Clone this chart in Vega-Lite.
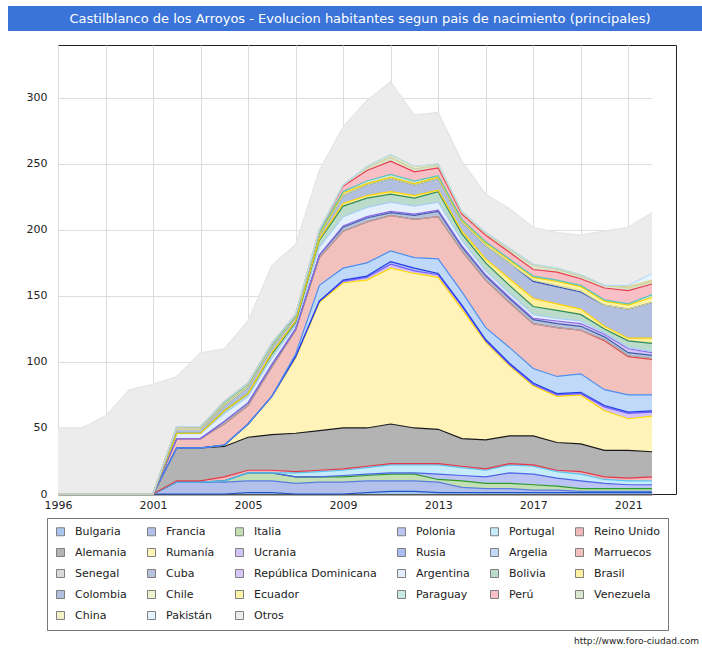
{
"$schema": "https://vega.github.io/schema/vega-lite/v6.json",
"padding": {"left": 8, "top": 6, "right": 0, "bottom": 0},
"spacing": 13,
"config": {"font": "DejaVu Sans", "view": {"stroke": "#222"}},
"vconcat": [
{
"width": 694, "height": 25,
"view": {"fill": "#3a74d8", "stroke": null},
"data": {"values": [{"t": "Castilblanco de los Arroyos - Evolucion habitantes segun pais de nacimiento (principales)"}]},
"mark": {"type": "text", "color": "white", "fontSize": 13, "dx": 5, "baseline": "middle"},
"encoding": {"text": {"field": "t"}}
},
{
"spacing": 0,
"hconcat": [
{
"width": 17, "height": 449,
"view": {"stroke": null},
"data": {"values": [{"t": ""}]},
"mark": {"type": "text"},
"encoding": {"text": {"field": "t"}}
},
{
"width": 618, "height": 449,
"title": {"text": "http://www.foro-ciudad.com", "orient": "bottom", "anchor": "end", "fontSize": 9, "fontWeight": "normal", "color": "#222", "dx": 23, "offset": 127},
"data": {"values": [
{"year":1996,"pais":"Otros","n":50},{"year":1998,"pais":"Otros","n":50},{"year":1999,"pais":"Otros","n":59},{"year":2000,"pais":"Otros","n":79},{"year":2001,"pais":"Otros","n":83},{"year":2002,"pais":"Otros","n":38},{"year":2003,"pais":"Otros","n":56},{"year":2004,"pais":"Otros","n":40},{"year":2005,"pais":"Otros","n":47},{"year":2006,"pais":"Otros","n":59},{"year":2007,"pais":"Otros","n":53},{"year":2008,"pais":"Otros","n":45},{"year":2009,"pais":"Otros","n":44},{"year":2010,"pais":"Otros","n":50},{"year":2011,"pais":"Otros","n":55},{"year":2012,"pais":"Otros","n":39},{"year":2013,"pais":"Otros","n":39},{"year":2014,"pais":"Otros","n":38},{"year":2015,"pais":"Otros","n":29},{"year":2016,"pais":"Otros","n":30},{"year":2017,"pais":"Otros","n":28},{"year":2018,"pais":"Otros","n":27},{"year":2019,"pais":"Otros","n":30},{"year":2020,"pais":"Otros","n":41},{"year":2021,"pais":"Otros","n":44},{"year":2022,"pais":"Otros","n":46},
{"year":2001,"pais":"Bulgaria","n":0},{"year":2002,"pais":"Bulgaria","n":0},{"year":2003,"pais":"Bulgaria","n":0},{"year":2004,"pais":"Bulgaria","n":0},{"year":2005,"pais":"Bulgaria","n":1},{"year":2006,"pais":"Bulgaria","n":1},{"year":2007,"pais":"Bulgaria","n":0},{"year":2008,"pais":"Bulgaria","n":0},{"year":2009,"pais":"Bulgaria","n":0},{"year":2010,"pais":"Bulgaria","n":1},{"year":2011,"pais":"Bulgaria","n":2},{"year":2012,"pais":"Bulgaria","n":2},{"year":2013,"pais":"Bulgaria","n":1},{"year":2014,"pais":"Bulgaria","n":1},{"year":2015,"pais":"Bulgaria","n":1},{"year":2016,"pais":"Bulgaria","n":1},{"year":2017,"pais":"Bulgaria","n":1},{"year":2018,"pais":"Bulgaria","n":1},{"year":2019,"pais":"Bulgaria","n":1},{"year":2020,"pais":"Bulgaria","n":1},{"year":2021,"pais":"Bulgaria","n":1},{"year":2022,"pais":"Bulgaria","n":1},
{"year":2001,"pais":"Francia","n":0},{"year":2002,"pais":"Francia","n":9},{"year":2003,"pais":"Francia","n":9},{"year":2004,"pais":"Francia","n":9},{"year":2005,"pais":"Francia","n":9},{"year":2006,"pais":"Francia","n":9},{"year":2007,"pais":"Francia","n":8},{"year":2008,"pais":"Francia","n":9},{"year":2009,"pais":"Francia","n":9},{"year":2010,"pais":"Francia","n":9},{"year":2011,"pais":"Francia","n":8},{"year":2012,"pais":"Francia","n":8},{"year":2013,"pais":"Francia","n":8},{"year":2014,"pais":"Francia","n":4},{"year":2015,"pais":"Francia","n":3},{"year":2016,"pais":"Francia","n":3},{"year":2017,"pais":"Francia","n":2},{"year":2018,"pais":"Francia","n":2},{"year":2019,"pais":"Francia","n":1},{"year":2020,"pais":"Francia","n":1},{"year":2021,"pais":"Francia","n":1},{"year":2022,"pais":"Francia","n":1},
{"year":2001,"pais":"Italia","n":0},{"year":2002,"pais":"Italia","n":0},{"year":2003,"pais":"Italia","n":0},{"year":2004,"pais":"Italia","n":1},{"year":2005,"pais":"Italia","n":6},{"year":2006,"pais":"Italia","n":6},{"year":2007,"pais":"Italia","n":5},{"year":2008,"pais":"Italia","n":4},{"year":2009,"pais":"Italia","n":4},{"year":2010,"pais":"Italia","n":4},{"year":2011,"pais":"Italia","n":5},{"year":2012,"pais":"Italia","n":5},{"year":2013,"pais":"Italia","n":2},{"year":2014,"pais":"Italia","n":5},{"year":2015,"pais":"Italia","n":4},{"year":2016,"pais":"Italia","n":4},{"year":2017,"pais":"Italia","n":4},{"year":2018,"pais":"Italia","n":3},{"year":2019,"pais":"Italia","n":2},{"year":2020,"pais":"Italia","n":2},{"year":2021,"pais":"Italia","n":2},{"year":2022,"pais":"Italia","n":2},
{"year":2001,"pais":"Polonia","n":0},{"year":2002,"pais":"Polonia","n":0},{"year":2003,"pais":"Polonia","n":0},{"year":2004,"pais":"Polonia","n":0},{"year":2005,"pais":"Polonia","n":0},{"year":2006,"pais":"Polonia","n":0},{"year":2007,"pais":"Polonia","n":0},{"year":2008,"pais":"Polonia","n":0},{"year":2009,"pais":"Polonia","n":1},{"year":2010,"pais":"Polonia","n":1},{"year":2011,"pais":"Polonia","n":1},{"year":2012,"pais":"Polonia","n":1},{"year":2013,"pais":"Polonia","n":4},{"year":2014,"pais":"Polonia","n":4},{"year":2015,"pais":"Polonia","n":5},{"year":2016,"pais":"Polonia","n":8},{"year":2017,"pais":"Polonia","n":8},{"year":2018,"pais":"Polonia","n":6},{"year":2019,"pais":"Polonia","n":6},{"year":2020,"pais":"Polonia","n":4},{"year":2021,"pais":"Polonia","n":3},{"year":2022,"pais":"Polonia","n":3},
{"year":2001,"pais":"Portugal","n":0},{"year":2002,"pais":"Portugal","n":0},{"year":2003,"pais":"Portugal","n":0},{"year":2004,"pais":"Portugal","n":0},{"year":2005,"pais":"Portugal","n":0},{"year":2006,"pais":"Portugal","n":0},{"year":2007,"pais":"Portugal","n":3},{"year":2008,"pais":"Portugal","n":4},{"year":2009,"pais":"Portugal","n":4},{"year":2010,"pais":"Portugal","n":5},{"year":2011,"pais":"Portugal","n":6},{"year":2012,"pais":"Portugal","n":6},{"year":2013,"pais":"Portugal","n":7},{"year":2014,"pais":"Portugal","n":6},{"year":2015,"pais":"Portugal","n":5},{"year":2016,"pais":"Portugal","n":6},{"year":2017,"pais":"Portugal","n":6},{"year":2018,"pais":"Portugal","n":5},{"year":2019,"pais":"Portugal","n":5},{"year":2020,"pais":"Portugal","n":3},{"year":2021,"pais":"Portugal","n":3},{"year":2022,"pais":"Portugal","n":3},
{"year":2001,"pais":"Reino Unido","n":0},{"year":2002,"pais":"Reino Unido","n":1},{"year":2003,"pais":"Reino Unido","n":1},{"year":2004,"pais":"Reino Unido","n":3},{"year":2005,"pais":"Reino Unido","n":2},{"year":2006,"pais":"Reino Unido","n":2},{"year":2007,"pais":"Reino Unido","n":1},{"year":2008,"pais":"Reino Unido","n":1},{"year":2009,"pais":"Reino Unido","n":1},{"year":2010,"pais":"Reino Unido","n":1},{"year":2011,"pais":"Reino Unido","n":1},{"year":2012,"pais":"Reino Unido","n":1},{"year":2013,"pais":"Reino Unido","n":1},{"year":2014,"pais":"Reino Unido","n":1},{"year":2015,"pais":"Reino Unido","n":1},{"year":2016,"pais":"Reino Unido","n":1},{"year":2017,"pais":"Reino Unido","n":1},{"year":2018,"pais":"Reino Unido","n":1},{"year":2019,"pais":"Reino Unido","n":2},{"year":2020,"pais":"Reino Unido","n":2},{"year":2021,"pais":"Reino Unido","n":2},{"year":2022,"pais":"Reino Unido","n":3},
{"year":2001,"pais":"Alemania","n":0},{"year":2002,"pais":"Alemania","n":25},{"year":2003,"pais":"Alemania","n":25},{"year":2004,"pais":"Alemania","n":23},{"year":2005,"pais":"Alemania","n":25},{"year":2006,"pais":"Alemania","n":27},{"year":2007,"pais":"Alemania","n":29},{"year":2008,"pais":"Alemania","n":30},{"year":2009,"pais":"Alemania","n":31},{"year":2010,"pais":"Alemania","n":29},{"year":2011,"pais":"Alemania","n":30},{"year":2012,"pais":"Alemania","n":27},{"year":2013,"pais":"Alemania","n":26},{"year":2014,"pais":"Alemania","n":21},{"year":2015,"pais":"Alemania","n":22},{"year":2016,"pais":"Alemania","n":21},{"year":2017,"pais":"Alemania","n":22},{"year":2018,"pais":"Alemania","n":21},{"year":2019,"pais":"Alemania","n":21},{"year":2020,"pais":"Alemania","n":20},{"year":2021,"pais":"Alemania","n":21},{"year":2022,"pais":"Alemania","n":19},
{"year":2001,"pais":"Rumanía","n":0},{"year":2002,"pais":"Rumanía","n":0},{"year":2003,"pais":"Rumanía","n":0},{"year":2004,"pais":"Rumanía","n":1},{"year":2005,"pais":"Rumanía","n":10},{"year":2006,"pais":"Rumanía","n":29},{"year":2007,"pais":"Rumanía","n":57},{"year":2008,"pais":"Rumanía","n":97},{"year":2009,"pais":"Rumanía","n":110},{"year":2010,"pais":"Rumanía","n":112},{"year":2011,"pais":"Rumanía","n":118},{"year":2012,"pais":"Rumanía","n":117},{"year":2013,"pais":"Rumanía","n":115},{"year":2014,"pais":"Rumanía","n":98},{"year":2015,"pais":"Rumanía","n":74},{"year":2016,"pais":"Rumanía","n":53},{"year":2017,"pais":"Rumanía","n":38},{"year":2018,"pais":"Rumanía","n":35},{"year":2019,"pais":"Rumanía","n":37},{"year":2020,"pais":"Rumanía","n":30},{"year":2021,"pais":"Rumanía","n":24},{"year":2022,"pais":"Rumanía","n":27},
{"year":2001,"pais":"Ucrania","n":0},{"year":2002,"pais":"Ucrania","n":0},{"year":2003,"pais":"Ucrania","n":0},{"year":2004,"pais":"Ucrania","n":0},{"year":2005,"pais":"Ucrania","n":0},{"year":2006,"pais":"Ucrania","n":0},{"year":2007,"pais":"Ucrania","n":1},{"year":2008,"pais":"Ucrania","n":1},{"year":2009,"pais":"Ucrania","n":1},{"year":2010,"pais":"Ucrania","n":2},{"year":2011,"pais":"Ucrania","n":3},{"year":2012,"pais":"Ucrania","n":2},{"year":2013,"pais":"Ucrania","n":2},{"year":2014,"pais":"Ucrania","n":2},{"year":2015,"pais":"Ucrania","n":1},{"year":2016,"pais":"Ucrania","n":1},{"year":2017,"pais":"Ucrania","n":1},{"year":2018,"pais":"Ucrania","n":1},{"year":2019,"pais":"Ucrania","n":1},{"year":2020,"pais":"Ucrania","n":3},{"year":2021,"pais":"Ucrania","n":4},{"year":2022,"pais":"Ucrania","n":3},
{"year":2001,"pais":"Rusia","n":0},{"year":2002,"pais":"Rusia","n":0},{"year":2003,"pais":"Rusia","n":0},{"year":2004,"pais":"Rusia","n":0},{"year":2005,"pais":"Rusia","n":0},{"year":2006,"pais":"Rusia","n":0},{"year":2007,"pais":"Rusia","n":0},{"year":2008,"pais":"Rusia","n":0},{"year":2009,"pais":"Rusia","n":1},{"year":2010,"pais":"Rusia","n":1},{"year":2011,"pais":"Rusia","n":2},{"year":2012,"pais":"Rusia","n":2},{"year":2013,"pais":"Rusia","n":1},{"year":2014,"pais":"Rusia","n":1},{"year":2015,"pais":"Rusia","n":1},{"year":2016,"pais":"Rusia","n":1},{"year":2017,"pais":"Rusia","n":1},{"year":2018,"pais":"Rusia","n":1},{"year":2019,"pais":"Rusia","n":1},{"year":2020,"pais":"Rusia","n":1},{"year":2021,"pais":"Rusia","n":1},{"year":2022,"pais":"Rusia","n":1},
{"year":2001,"pais":"Argelia","n":0},{"year":2002,"pais":"Argelia","n":0},{"year":2003,"pais":"Argelia","n":0},{"year":2004,"pais":"Argelia","n":0},{"year":2005,"pais":"Argelia","n":0},{"year":2006,"pais":"Argelia","n":0},{"year":2007,"pais":"Argelia","n":2},{"year":2008,"pais":"Argelia","n":12},{"year":2009,"pais":"Argelia","n":9},{"year":2010,"pais":"Argelia","n":10},{"year":2011,"pais":"Argelia","n":8},{"year":2012,"pais":"Argelia","n":8},{"year":2013,"pais":"Argelia","n":11},{"year":2014,"pais":"Argelia","n":10},{"year":2015,"pais":"Argelia","n":9},{"year":2016,"pais":"Argelia","n":12},{"year":2017,"pais":"Argelia","n":11},{"year":2018,"pais":"Argelia","n":13},{"year":2019,"pais":"Argelia","n":14},{"year":2020,"pais":"Argelia","n":12},{"year":2021,"pais":"Argelia","n":13},{"year":2022,"pais":"Argelia","n":12},
{"year":2001,"pais":"Marruecos","n":0},{"year":2002,"pais":"Marruecos","n":7},{"year":2003,"pais":"Marruecos","n":7},{"year":2004,"pais":"Marruecos","n":16},{"year":2005,"pais":"Marruecos","n":14},{"year":2006,"pais":"Marruecos","n":22},{"year":2007,"pais":"Marruecos","n":18},{"year":2008,"pais":"Marruecos","n":21},{"year":2009,"pais":"Marruecos","n":28},{"year":2010,"pais":"Marruecos","n":31},{"year":2011,"pais":"Marruecos","n":27},{"year":2012,"pais":"Marruecos","n":29},{"year":2013,"pais":"Marruecos","n":32},{"year":2014,"pais":"Marruecos","n":31},{"year":2015,"pais":"Marruecos","n":36},{"year":2016,"pais":"Marruecos","n":34},{"year":2017,"pais":"Marruecos","n":34},{"year":2018,"pais":"Marruecos","n":37},{"year":2019,"pais":"Marruecos","n":33},{"year":2020,"pais":"Marruecos","n":37},{"year":2021,"pais":"Marruecos","n":29},{"year":2022,"pais":"Marruecos","n":27},
{"year":2001,"pais":"Senegal","n":0},{"year":2002,"pais":"Senegal","n":0},{"year":2003,"pais":"Senegal","n":0},{"year":2004,"pais":"Senegal","n":0},{"year":2005,"pais":"Senegal","n":0},{"year":2006,"pais":"Senegal","n":0},{"year":2007,"pais":"Senegal","n":0},{"year":2008,"pais":"Senegal","n":0},{"year":2009,"pais":"Senegal","n":0},{"year":2010,"pais":"Senegal","n":0},{"year":2011,"pais":"Senegal","n":0},{"year":2012,"pais":"Senegal","n":0},{"year":2013,"pais":"Senegal","n":0},{"year":2014,"pais":"Senegal","n":0},{"year":2015,"pais":"Senegal","n":0},{"year":2016,"pais":"Senegal","n":0},{"year":2017,"pais":"Senegal","n":0},{"year":2018,"pais":"Senegal","n":0},{"year":2019,"pais":"Senegal","n":0},{"year":2020,"pais":"Senegal","n":1},{"year":2021,"pais":"Senegal","n":1},{"year":2022,"pais":"Senegal","n":1},
{"year":2001,"pais":"Cuba","n":0},{"year":2002,"pais":"Cuba","n":0},{"year":2003,"pais":"Cuba","n":0},{"year":2004,"pais":"Cuba","n":2},{"year":2005,"pais":"Cuba","n":2},{"year":2006,"pais":"Cuba","n":2},{"year":2007,"pais":"Cuba","n":1},{"year":2008,"pais":"Cuba","n":2},{"year":2009,"pais":"Cuba","n":3},{"year":2010,"pais":"Cuba","n":3},{"year":2011,"pais":"Cuba","n":2},{"year":2012,"pais":"Cuba","n":3},{"year":2013,"pais":"Cuba","n":4},{"year":2014,"pais":"Cuba","n":3},{"year":2015,"pais":"Cuba","n":3},{"year":2016,"pais":"Cuba","n":3},{"year":2017,"pais":"Cuba","n":3},{"year":2018,"pais":"Cuba","n":3},{"year":2019,"pais":"Cuba","n":3},{"year":2020,"pais":"Cuba","n":2},{"year":2021,"pais":"Cuba","n":2},{"year":2022,"pais":"Cuba","n":2},
{"year":2001,"pais":"República Dominicana","n":0},{"year":2002,"pais":"República Dominicana","n":0},{"year":2003,"pais":"República Dominicana","n":0},{"year":2004,"pais":"República Dominicana","n":0},{"year":2005,"pais":"República Dominicana","n":0},{"year":2006,"pais":"República Dominicana","n":0},{"year":2007,"pais":"República Dominicana","n":0},{"year":2008,"pais":"República Dominicana","n":0},{"year":2009,"pais":"República Dominicana","n":1},{"year":2010,"pais":"República Dominicana","n":1},{"year":2011,"pais":"República Dominicana","n":1},{"year":2012,"pais":"República Dominicana","n":1},{"year":2013,"pais":"República Dominicana","n":1},{"year":2014,"pais":"República Dominicana","n":1},{"year":2015,"pais":"República Dominicana","n":1},{"year":2016,"pais":"República Dominicana","n":1},{"year":2017,"pais":"República Dominicana","n":1},{"year":2018,"pais":"República Dominicana","n":2},{"year":2019,"pais":"República Dominicana","n":2},{"year":2020,"pais":"República Dominicana","n":2},{"year":2021,"pais":"República Dominicana","n":3},{"year":2022,"pais":"República Dominicana","n":2},
{"year":2001,"pais":"Argentina","n":0},{"year":2002,"pais":"Argentina","n":4},{"year":2003,"pais":"Argentina","n":4},{"year":2004,"pais":"Argentina","n":6},{"year":2005,"pais":"Argentina","n":5},{"year":2006,"pais":"Argentina","n":5},{"year":2007,"pais":"Argentina","n":3},{"year":2008,"pais":"Argentina","n":6},{"year":2009,"pais":"Argentina","n":7},{"year":2010,"pais":"Argentina","n":7},{"year":2011,"pais":"Argentina","n":7},{"year":2012,"pais":"Argentina","n":6},{"year":2013,"pais":"Argentina","n":6},{"year":2014,"pais":"Argentina","n":4},{"year":2015,"pais":"Argentina","n":3},{"year":2016,"pais":"Argentina","n":3},{"year":2017,"pais":"Argentina","n":3},{"year":2018,"pais":"Argentina","n":2},{"year":2019,"pais":"Argentina","n":2},{"year":2020,"pais":"Argentina","n":1},{"year":2021,"pais":"Argentina","n":1},{"year":2022,"pais":"Argentina","n":1},
{"year":2001,"pais":"Bolivia","n":0},{"year":2002,"pais":"Bolivia","n":0},{"year":2003,"pais":"Bolivia","n":0},{"year":2004,"pais":"Bolivia","n":2},{"year":2005,"pais":"Bolivia","n":2},{"year":2006,"pais":"Bolivia","n":3},{"year":2007,"pais":"Bolivia","n":2},{"year":2008,"pais":"Bolivia","n":5},{"year":2009,"pais":"Bolivia","n":8},{"year":2010,"pais":"Bolivia","n":7},{"year":2011,"pais":"Bolivia","n":6},{"year":2012,"pais":"Bolivia","n":6},{"year":2013,"pais":"Bolivia","n":8},{"year":2014,"pais":"Bolivia","n":5},{"year":2015,"pais":"Bolivia","n":6},{"year":2016,"pais":"Bolivia","n":6},{"year":2017,"pais":"Bolivia","n":6},{"year":2018,"pais":"Bolivia","n":6},{"year":2019,"pais":"Bolivia","n":5},{"year":2020,"pais":"Bolivia","n":3},{"year":2021,"pais":"Bolivia","n":5},{"year":2022,"pais":"Bolivia","n":6},
{"year":2001,"pais":"Brasil","n":0},{"year":2002,"pais":"Brasil","n":0},{"year":2003,"pais":"Brasil","n":0},{"year":2004,"pais":"Brasil","n":0},{"year":2005,"pais":"Brasil","n":0},{"year":2006,"pais":"Brasil","n":1},{"year":2007,"pais":"Brasil","n":1},{"year":2008,"pais":"Brasil","n":1},{"year":2009,"pais":"Brasil","n":2},{"year":2010,"pais":"Brasil","n":2},{"year":2011,"pais":"Brasil","n":2},{"year":2012,"pais":"Brasil","n":2},{"year":2013,"pais":"Brasil","n":1},{"year":2014,"pais":"Brasil","n":2},{"year":2015,"pais":"Brasil","n":3},{"year":2016,"pais":"Brasil","n":5},{"year":2017,"pais":"Brasil","n":6},{"year":2018,"pais":"Brasil","n":5},{"year":2019,"pais":"Brasil","n":4},{"year":2020,"pais":"Brasil","n":2},{"year":2021,"pais":"Brasil","n":2},{"year":2022,"pais":"Brasil","n":4},
{"year":2001,"pais":"Colombia","n":0},{"year":2002,"pais":"Colombia","n":3},{"year":2003,"pais":"Colombia","n":3},{"year":2004,"pais":"Colombia","n":4},{"year":2005,"pais":"Colombia","n":5},{"year":2006,"pais":"Colombia","n":4},{"year":2007,"pais":"Colombia","n":3},{"year":2008,"pais":"Colombia","n":3},{"year":2009,"pais":"Colombia","n":6},{"year":2010,"pais":"Colombia","n":8},{"year":2011,"pais":"Colombia","n":10},{"year":2012,"pais":"Colombia","n":8},{"year":2013,"pais":"Colombia","n":9},{"year":2014,"pais":"Colombia","n":7},{"year":2015,"pais":"Colombia","n":10},{"year":2016,"pais":"Colombia","n":12},{"year":2017,"pais":"Colombia","n":13},{"year":2018,"pais":"Colombia","n":13},{"year":2019,"pais":"Colombia","n":13},{"year":2020,"pais":"Colombia","n":16},{"year":2021,"pais":"Colombia","n":22},{"year":2022,"pais":"Colombia","n":27},
{"year":2001,"pais":"Chile","n":0},{"year":2002,"pais":"Chile","n":0},{"year":2003,"pais":"Chile","n":0},{"year":2004,"pais":"Chile","n":0},{"year":2005,"pais":"Chile","n":0},{"year":2006,"pais":"Chile","n":0},{"year":2007,"pais":"Chile","n":0},{"year":2008,"pais":"Chile","n":0},{"year":2009,"pais":"Chile","n":0},{"year":2010,"pais":"Chile","n":0},{"year":2011,"pais":"Chile","n":0},{"year":2012,"pais":"Chile","n":0},{"year":2013,"pais":"Chile","n":0},{"year":2014,"pais":"Chile","n":0},{"year":2015,"pais":"Chile","n":0},{"year":2016,"pais":"Chile","n":0},{"year":2017,"pais":"Chile","n":1},{"year":2018,"pais":"Chile","n":1},{"year":2019,"pais":"Chile","n":1},{"year":2020,"pais":"Chile","n":0},{"year":2021,"pais":"Chile","n":0},{"year":2022,"pais":"Chile","n":0},
{"year":2001,"pais":"Ecuador","n":0},{"year":2002,"pais":"Ecuador","n":2},{"year":2003,"pais":"Ecuador","n":2},{"year":2004,"pais":"Ecuador","n":2},{"year":2005,"pais":"Ecuador","n":2},{"year":2006,"pais":"Ecuador","n":2},{"year":2007,"pais":"Ecuador","n":1},{"year":2008,"pais":"Ecuador","n":1},{"year":2009,"pais":"Ecuador","n":2},{"year":2010,"pais":"Ecuador","n":1},{"year":2011,"pais":"Ecuador","n":1},{"year":2012,"pais":"Ecuador","n":1},{"year":2013,"pais":"Ecuador","n":1},{"year":2014,"pais":"Ecuador","n":1},{"year":2015,"pais":"Ecuador","n":2},{"year":2016,"pais":"Ecuador","n":2},{"year":2017,"pais":"Ecuador","n":2},{"year":2018,"pais":"Ecuador","n":3},{"year":2019,"pais":"Ecuador","n":3},{"year":2020,"pais":"Ecuador","n":3},{"year":2021,"pais":"Ecuador","n":3},{"year":2022,"pais":"Ecuador","n":4},
{"year":2001,"pais":"Paraguay","n":0},{"year":2002,"pais":"Paraguay","n":0},{"year":2003,"pais":"Paraguay","n":0},{"year":2004,"pais":"Paraguay","n":0},{"year":2005,"pais":"Paraguay","n":0},{"year":2006,"pais":"Paraguay","n":0},{"year":2007,"pais":"Paraguay","n":0},{"year":2008,"pais":"Paraguay","n":1},{"year":2009,"pais":"Paraguay","n":1},{"year":2010,"pais":"Paraguay","n":2},{"year":2011,"pais":"Paraguay","n":2},{"year":2012,"pais":"Paraguay","n":2},{"year":2013,"pais":"Paraguay","n":1},{"year":2014,"pais":"Paraguay","n":1},{"year":2015,"pais":"Paraguay","n":1},{"year":2016,"pais":"Paraguay","n":1},{"year":2017,"pais":"Paraguay","n":1},{"year":2018,"pais":"Paraguay","n":1},{"year":2019,"pais":"Paraguay","n":1},{"year":2020,"pais":"Paraguay","n":1},{"year":2021,"pais":"Paraguay","n":1},{"year":2022,"pais":"Paraguay","n":2},
{"year":2001,"pais":"Perú","n":0},{"year":2002,"pais":"Perú","n":0},{"year":2003,"pais":"Perú","n":0},{"year":2004,"pais":"Perú","n":1},{"year":2005,"pais":"Perú","n":1},{"year":2006,"pais":"Perú","n":1},{"year":2007,"pais":"Perú","n":1},{"year":2008,"pais":"Perú","n":2},{"year":2009,"pais":"Perú","n":4},{"year":2010,"pais":"Perú","n":8},{"year":2011,"pais":"Perú","n":10},{"year":2012,"pais":"Perú","n":7},{"year":2013,"pais":"Perú","n":6},{"year":2014,"pais":"Perú","n":4},{"year":2015,"pais":"Perú","n":5},{"year":2016,"pais":"Perú","n":5},{"year":2017,"pais":"Perú","n":5},{"year":2018,"pais":"Perú","n":6},{"year":2019,"pais":"Perú","n":5},{"year":2020,"pais":"Perú","n":9},{"year":2021,"pais":"Perú","n":10},{"year":2022,"pais":"Perú","n":8},
{"year":2001,"pais":"Venezuela","n":0},{"year":2002,"pais":"Venezuela","n":0},{"year":2003,"pais":"Venezuela","n":0},{"year":2004,"pais":"Venezuela","n":0},{"year":2005,"pais":"Venezuela","n":0},{"year":2006,"pais":"Venezuela","n":0},{"year":2007,"pais":"Venezuela","n":0},{"year":2008,"pais":"Venezuela","n":0},{"year":2009,"pais":"Venezuela","n":1},{"year":2010,"pais":"Venezuela","n":2},{"year":2011,"pais":"Venezuela","n":3},{"year":2012,"pais":"Venezuela","n":2},{"year":2013,"pais":"Venezuela","n":2},{"year":2014,"pais":"Venezuela","n":1},{"year":2015,"pais":"Venezuela","n":1},{"year":2016,"pais":"Venezuela","n":2},{"year":2017,"pais":"Venezuela","n":3},{"year":2018,"pais":"Venezuela","n":2},{"year":2019,"pais":"Venezuela","n":2},{"year":2020,"pais":"Venezuela","n":2},{"year":2021,"pais":"Venezuela","n":2},{"year":2022,"pais":"Venezuela","n":2},
{"year":2001,"pais":"China","n":0},{"year":2002,"pais":"China","n":0},{"year":2003,"pais":"China","n":0},{"year":2004,"pais":"China","n":0},{"year":2005,"pais":"China","n":0},{"year":2006,"pais":"China","n":0},{"year":2007,"pais":"China","n":0},{"year":2008,"pais":"China","n":0},{"year":2009,"pais":"China","n":0},{"year":2010,"pais":"China","n":1},{"year":2011,"pais":"China","n":2},{"year":2012,"pais":"China","n":2},{"year":2013,"pais":"China","n":1},{"year":2014,"pais":"China","n":1},{"year":2015,"pais":"China","n":1},{"year":2016,"pais":"China","n":1},{"year":2017,"pais":"China","n":1},{"year":2018,"pais":"China","n":1},{"year":2019,"pais":"China","n":1},{"year":2020,"pais":"China","n":0},{"year":2021,"pais":"China","n":1},{"year":2022,"pais":"China","n":1},
{"year":2001,"pais":"Pakistán","n":0},{"year":2002,"pais":"Pakistán","n":0},{"year":2003,"pais":"Pakistán","n":0},{"year":2004,"pais":"Pakistán","n":0},{"year":2005,"pais":"Pakistán","n":0},{"year":2006,"pais":"Pakistán","n":0},{"year":2007,"pais":"Pakistán","n":0},{"year":2008,"pais":"Pakistán","n":0},{"year":2009,"pais":"Pakistán","n":0},{"year":2010,"pais":"Pakistán","n":0},{"year":2011,"pais":"Pakistán","n":0},{"year":2012,"pais":"Pakistán","n":0},{"year":2013,"pais":"Pakistán","n":0},{"year":2014,"pais":"Pakistán","n":0},{"year":2015,"pais":"Pakistán","n":0},{"year":2016,"pais":"Pakistán","n":0},{"year":2017,"pais":"Pakistán","n":0},{"year":2018,"pais":"Pakistán","n":0},{"year":2019,"pais":"Pakistán","n":0},{"year":2020,"pais":"Pakistán","n":0},{"year":2021,"pais":"Pakistán","n":1},{"year":2022,"pais":"Pakistán","n":5}
]},
"transform": [
{"calculate": "indexof(['Bulgaria','Francia','Italia','Polonia','Portugal','Reino Unido','Alemania','Rumanía','Ucrania','Rusia','Argelia','Marruecos','Senegal','Cuba','República Dominicana','Argentina','Bolivia','Brasil','Colombia','Chile','Ecuador','Paraguay','Perú','Venezuela','China','Pakistán','Otros'], datum.pais)", "as": "o"},
{"calculate": "26 - datum.o", "as": "r"}
],
"encoding": {
"x": {"field": "year", "type": "ordinal", "sort": "ascending",
 "scale": {"type": "point", "range": [0, 594], "padding": 0},
 "axis": {"title": null, "values": [1996,1999,2001,2003,2005,2007,2009,2011,2013,2015,2017,2019,2021],
  "labelExpr": "indexof([1996,2001,2005,2009,2013,2017,2021], datum.value) >= 0 ? datum.label : ''",
  "labelAngle": 0, "labelFontSize": 11, "labelColor": "#222", "labelPadding": 5, "ticks": false,
  "grid": true, "gridColor": "#dddddd", "domainColor": "#555", "domainWidth": 2}},
"y": {"field": "n", "type": "quantitative", "stack": "zero",
 "scale": {"domain": [0, 340], "nice": false},
 "axis": {"title": null, "values": [0,50,100,150,200,250,300],
  "labelFontSize": 11, "labelColor": "#222", "labelPadding": 11, "ticks": false, "domain": false,
  "grid": true, "gridColor": "#dddddd"}}
},
"layer": [
{"mark": {"type": "area", "opacity": 1},
 "encoding": {
  "color": {"field": "pais", "type": "nominal",
   "scale": {"domain": ["Bulgaria","Francia","Italia","Polonia","Portugal","Reino Unido","Alemania","Rumanía","Ucrania","Rusia","Argelia","Marruecos","Senegal","Cuba","República Dominicana","Argentina","Bolivia","Brasil","Colombia","Chile","Ecuador","Paraguay","Perú","Venezuela","China","Pakistán","Otros"],
    "range": ["#a9c6ef","#b4c0ec","#c2e0b4","#bcc4f4","#c6ecfb","#f2b8bc","#b3b3b3","#fff3b9","#d3c3f7","#a9bff3","#c1d9f9","#f3c1bd","#d9d9d9","#b7c2dd","#d6c6f6","#e3effc","#bcdccb","#fff09f","#b3bfdf","#edf3cf","#fff3a6","#c9e9e5","#f8bfc7","#dbe6d0","#f3efc6","#e6f2fd","#ececec"]},
   "legend": {"title": null, "orient": "none", "legendX": 39, "legendY": 512, "direction": "horizontal", "columns": 6, "gridAlign": "each",
    "columnPadding": 18, "rowPadding": 8, "symbolType": "square", "symbolSize": 64, "symbolStrokeColor": "#808080",
    "symbolStrokeWidth": 1, "labelFontSize": 11, "labelColor": "#222", "labelOffset": 9, "padding": 8,
    "strokeColor": "#777", "fillColor": "white"}},
  "order": {"field": "o", "type": "quantitative"}
 }},
{"mark": {"type": "line", "strokeWidth": 1.2},
 "encoding": {
  "stroke": {"field": "r", "type": "ordinal",
   "scale": {"domain": [0,1,2,3,4,5,6,7,8,9,10,11,12,13,14,15,16,17,18,19,20,21,22,23,24,25,26],
    "range": ["#e4e4e4","#b3dbf5","#dcd48e","#c9d1a2","#ea3a4c","#5cc2b8","#f2d200","#d6dc96","#2f4fb5","#ffd400","#2e8b57","#a8cdf2","#8a6ae8","#3d5fa8","#a8a8a8","#e04545","#4b8ff0","#1e3fe6","#7a5cff","#ffd900","#1a1a1a","#e0384a","#55c3ee","#4b63e6","#2e9a2e","#5a7be0","#1b56c8"]},
   "legend": null}
 }}
]
}
]
}
]
}
